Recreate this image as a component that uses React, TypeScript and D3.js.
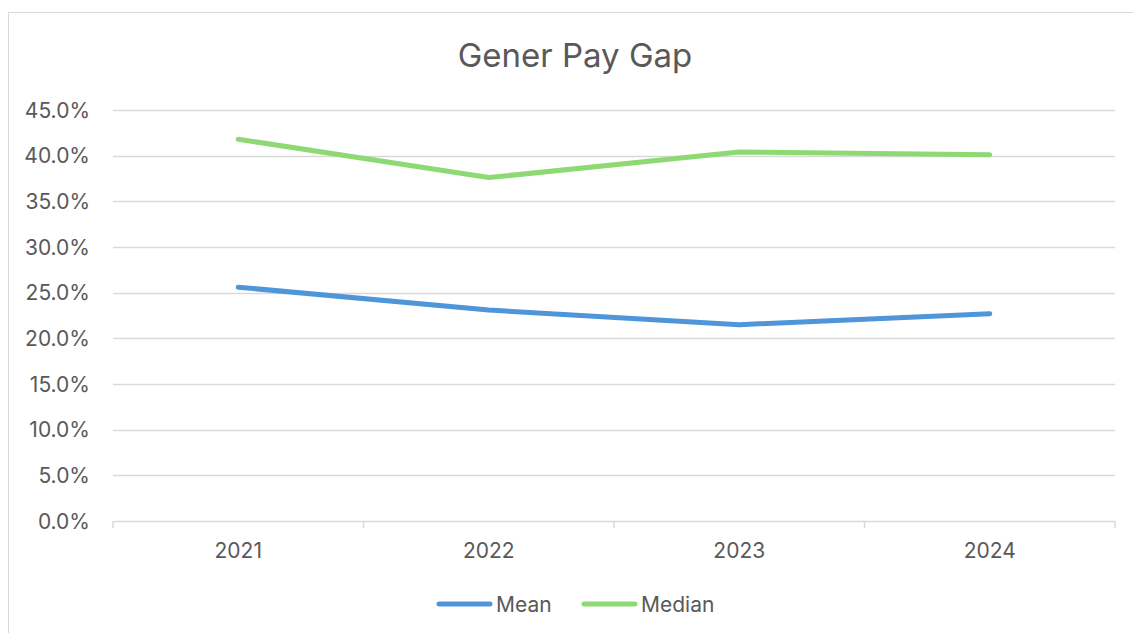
import React, { useEffect, useRef } from 'react';
import * as d3 from 'd3';

const years = ['2021', '2022', '2023', '2024'];
const meanGap = [25.6, 23.1, 21.5, 22.7];
const medianGap = [41.8, 37.6, 40.4, 40.1];
const yTicks = [0, 5, 10, 15, 20, 25, 30, 35, 40, 45];

const series = [
  { name: 'Mean', values: meanGap, color: '#4e95d9' },
  { name: 'Median', values: medianGap, color: '#8ed973' }
];

const W = 1133;
const H = 633;
const plot = { left: 113, right: 1115, top: 110, bottom: 521 };
const font = 'Inter, "Liberation Sans", Arial, sans-serif';
const textColor = '#595959';

function App() {
  const ref = useRef<SVGSVGElement>(null);

  useEffect(() => {
    const svg = d3.select(ref.current);
    svg.selectAll('*').remove();

    // chart frame
    svg.append('rect')
      .attr('x', 8.5).attr('y', 12.5)
      .attr('width', W).attr('height', H)
      .attr('fill', '#fff')
      .attr('stroke', '#d9d9d9');

    svg.append('text')
      .attr('x', 575).attr('y', 67)
      .attr('text-anchor', 'middle')
      .attr('font-family', font)
      .attr('font-size', 33)
      .attr('fill', textColor)
      .text('Gener Pay Gap');

    const x = d3.scaleBand().domain(years).range([plot.left, plot.right]);
    const y = d3.scaleLinear().domain([0, 45]).range([plot.bottom, plot.top]);

    // gridlines
    svg.append('g')
      .selectAll('line')
      .data(yTicks.filter(t => t > 0))
      .join('line')
      .attr('x1', plot.left).attr('x2', plot.right)
      .attr('y1', d => Math.round(y(d)) + 0.5)
      .attr('y2', d => Math.round(y(d)) + 0.5)
      .attr('stroke', '#d9d9d9')
      .attr('stroke-width', 1.5);

    // y labels
    svg.append('g')
      .selectAll('text')
      .data(yTicks)
      .join('text')
      .attr('x', 90).attr('y', d => y(d))
      .attr('dy', '0.36em')
      .attr('text-anchor', 'end')
      .attr('font-family', font)
      .attr('font-size', 21)
      .attr('fill', textColor)
      .text(d => d.toFixed(1) + '%');

    // x axis
    const xAxis = svg.append('g')
      .attr('transform', `translate(0, ${plot.bottom})`)
      .call(
        d3.axisBottom(x).tickSize(0).tickPadding(22)
      );
    xAxis.select('.domain').attr('stroke', '#d9d9d9').attr('stroke-width', 1.5);
    xAxis.selectAll('text')
      .attr('font-family', font)
      .attr('font-size', 21)
      .attr('fill', textColor);

    const edges = years.map(d => x(d) as number).concat([plot.right]);
    xAxis.append('g')
      .selectAll('line')
      .data(edges)
      .join('line')
      .attr('x1', d => d).attr('x2', d => d)
      .attr('y1', 0).attr('y2', 7)
      .attr('stroke', '#d9d9d9')
      .attr('stroke-width', 1.5);

    const line = d3.line<number>()
      .x((_, i) => (x(years[i]) as number) + x.bandwidth() / 2)
      .y(d => y(d));

    series.forEach(s => {
      svg.append('path')
        .datum(s.values)
        .attr('d', line)
        .attr('fill', 'none')
        .attr('stroke', s.color)
        .attr('stroke-width', 5)
        .attr('stroke-linecap', 'round')
        .attr('stroke-linejoin', 'round');
    });

    // legend
    const legendX = [437, 582];
    const lg = svg.append('g');
    series.forEach((s, i) => {
      const g = lg.append('g').attr('transform', `translate(${legendX[i]}, 604)`);
      g.append('line')
        .attr('x1', 2).attr('x2', 53)
        .attr('y1', 0).attr('y2', 0)
        .attr('stroke', s.color)
        .attr('stroke-width', 5)
        .attr('stroke-linecap', 'round');
      g.append('text')
        .attr('x', 59).attr('y', 0)
        .attr('dy', '0.36em')
        .attr('font-family', font)
        .attr('font-size', 21)
        .attr('fill', textColor)
        .text(s.name);
    });
  }, []);

  return (
    <svg
      ref={ref}
      width={W}
      height={H}
      style={{ position: 'absolute', left: 0, top: 0 }}
    />
  );
}

export default App;
